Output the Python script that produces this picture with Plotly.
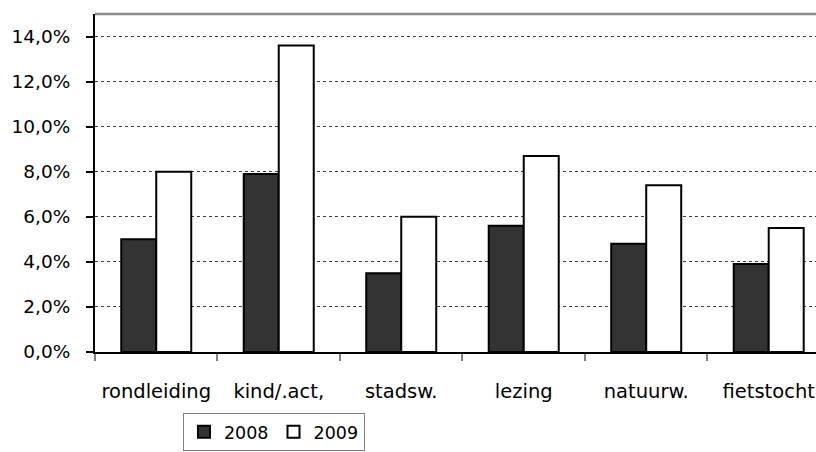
import plotly.graph_objects as go

categories = ["rondleiding", "kind/.act,", "stadsw.", "lezing", "natuurw.", "fietstocht"]
share_2008 = [0.050, 0.079, 0.035, 0.056, 0.048, 0.039]
share_2009 = [0.080, 0.136, 0.060, 0.087, 0.074, 0.055]
y_ticks = [0.0, 0.02, 0.04, 0.06, 0.08, 0.10, 0.12, 0.14]

FONT = "DejaVu Sans"
SIZE = 19.5

fig = go.Figure()
fig.add_trace(go.Bar(
    name="2008", x=categories, y=share_2008,
    marker=dict(color="#333333", line=dict(color="black", width=2)),
))
fig.add_trace(go.Bar(
    name="2009", x=categories, y=share_2009,
    marker=dict(color="white", line=dict(color="black", width=2)),
))

fig.update_layout(
    width=816, height=452,
    margin=dict(l=95, r=0, t=14, b=100),
    paper_bgcolor="white", plot_bgcolor="white",
    barmode="group", bargap=0.4286, bargroupgap=0,
    separators=", ",
    font=dict(family=FONT, size=SIZE, color="black"),
    showlegend=True,
    legend=dict(
        orientation="h", x=0.122, y=-0.18, xanchor="left", yanchor="top",
        bordercolor="#808080", borderwidth=1,
        font=dict(family=FONT, size=17.5, color="black"),
        itemwidth=30, traceorder="normal",
    ),
    xaxis=dict(
        range=[-0.5, 5.386],
        showline=True, linecolor="black", linewidth=2,
        ticks="outside", tickson="boundaries", ticklen=7,
        tickcolor="#808080", tickwidth=1.5,
        showgrid=False, ticklabelstandoff=21,
    ),
    yaxis=dict(
        range=[0, 0.15],
        tickvals=y_ticks, tickformat=".1%",
        tickfont=dict(size=18.5),
        showline=True, linecolor="black", linewidth=2,
        ticks="outside", ticklen=7, tickcolor="black", tickwidth=2,
        showgrid=True, gridcolor="#404040", gridwidth=1, griddash="dot",
        zeroline=False, ticklabelstandoff=12,
    ),
    shapes=[dict(
        type="line", xref="paper", yref="paper",
        x0=0, x1=1, y0=1, y1=1,
        line=dict(color="#8c8c8c", width=2.5),
    )],
)

fig.write_html("out.html")
